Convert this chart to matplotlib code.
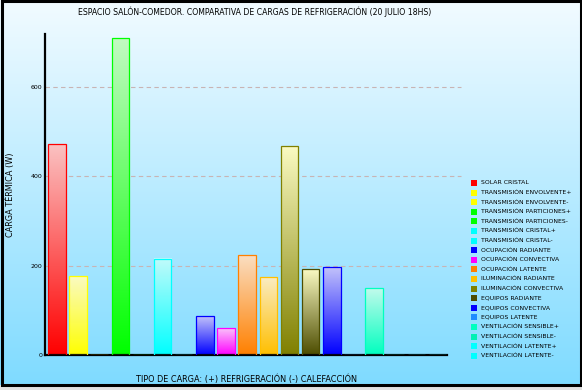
import colorsys

import numpy as np
import matplotlib
matplotlib.use("Agg")
import matplotlib.pyplot as plt
from matplotlib.colors import to_rgb
from matplotlib.patches import Rectangle

# --- data ---------------------------------------------------------------
categorias = [
    "Solar cristal",
    "Transmisión envolvente+",
    "Transmisión envolvente-",
    "Transmisión particiones+",
    "Transmisión particiones-",
    "Transmisión cristal+",
    "Transmisión cristal-",
    "Ocupación radiante",
    "Ocupación convectiva",
    "Ocupación latente",
    "Iluminación radiante",
    "Iluminación convectiva",
    "Equipos radiante",
    "Equipos convectiva",
    "Equipos latente",
    "Ventilación sensible+",
    "Ventilación sensible-",
    "Ventilación latente+",
    "Ventilación latente-",
]
cargas = [472, 176, 0, 710, 0, 216, 0, 87, 60, 223, 174, 468, 192, 196, 0, 149, 0, 0, 0]
colores = [
    "#ff0000", "#ffff00", "#ffff00", "#00ff00", "#00ff00", "#00ffff", "#00ffff",
    "#0000ff", "#ff00ff", "#ff8000", "#ffbf00", "#808000", "#4d4d00", "#0000ff",
    "#1e8cff", "#00ffbf", "#00f0b4", "#00ffff", "#00ffff",
]
yticks = [0, 200, 400, 600]

titulo = "Espacio Salón-comedor. Comparativa de cargas de refrigeración (20 Julio 18hs)"
ylabel = "Carga térmica (W)"
xlabel = "Tipo de carga: (+) Refrigeración (-) Calefacción"

W, H = 582, 390


def light(c):
    h, l, s = colorsys.rgb_to_hls(*to_rgb(c))
    return colorsys.hls_to_rgb(h, 0.87, s * 0.85)


fig = plt.figure(figsize=(W / 100, H / 100), dpi=100, facecolor="#e2e2e2")

# background gradient + frame
bg = fig.add_axes([0, 0, 1, 1], zorder=-10)
bg.set_axis_off()
top = np.array(to_rgb("#f2fbff"))
bot = np.array(to_rgb("#7fdbff"))
t = np.linspace(0, 1, 256)[:, None]
grad = (top * (1 - t) + bot * t)[:, None, :]
y_frame = 1 - 385 / H
bg.imshow(grad, extent=[0, 1, y_frame, 1], aspect="auto")
bg.set_xlim(0, 1)
bg.set_ylim(0, 1)
fig.add_artist(Rectangle((1.5 / W, y_frame), (W - 3) / W, 1 - y_frame - 1 / H,
                         transform=fig.transFigure, fill=False,
                         edgecolor="black", linewidth=2.2))

# main axes
ax = fig.add_axes([45 / W, 1 - 355 / H, 402 / W, 321 / H])
ax.patch.set_alpha(0)
x = np.arange(len(categorias))
bars = ax.bar(x, cargas, width=0.83, facecolor="none", edgecolor=colores,
              linewidth=0.9, zorder=3)
for b, c in zip(bars, colores):
    if b.get_height() <= 0:
        continue
    g = np.linspace(0, 1, 128)[:, None]
    img = (np.array(light(c)) * (1 - g) + np.array(to_rgb(c)) * g)[:, None, :]
    ax.imshow(img, extent=[b.get_x(), b.get_x() + b.get_width(), 0, b.get_height()],
              aspect="auto", zorder=2)

ax.set_xlim(-0.56, 18.45)
ax.set_ylim(0, 719)
ax.set_xticks([])
ax.set_yticks(yticks)
ax.set_yticklabels([str(v) for v in yticks], fontsize=4.5)
ax.tick_params(axis="y", length=0, pad=2)
for v in yticks[1:]:
    ax.axhline(v, xmin=0, xmax=1.035, color="#c8b4b4", linestyle=(0, (4, 3)),
               linewidth=0.8, clip_on=False, zorder=1)
for s in ["top", "right"]:
    ax.spines[s].set_visible(False)
ax.spines["left"].set_linewidth(1.6)
ax.spines["bottom"].set_linewidth(1.6)

fig.text(255 / W, 1 - 12 / H, titulo.upper(), ha="center", va="center", fontsize=5.6)
fig.text(10 / W, 1 - 195 / H, ylabel.upper(), ha="center", va="center",
         rotation=90, fontsize=5.9)
fig.text(247 / W, 1 - 379 / H, xlabel.upper(), ha="center", va="center", fontsize=5.9)

# legend
for i, (nombre, c) in enumerate(zip(categorias, colores)):
    yc = 183 + i * 9.6
    fig.add_artist(Rectangle((471 / W, 1 - (yc + 3) / H), 6 / W, 6 / H,
                             transform=fig.transFigure, facecolor=c, edgecolor="none"))
    fig.text(481 / W, 1 - yc / H, nombre.upper(), ha="left", va="center", fontsize=4.4)

fig.savefig("out.png", dpi=100, facecolor=fig.get_facecolor())
